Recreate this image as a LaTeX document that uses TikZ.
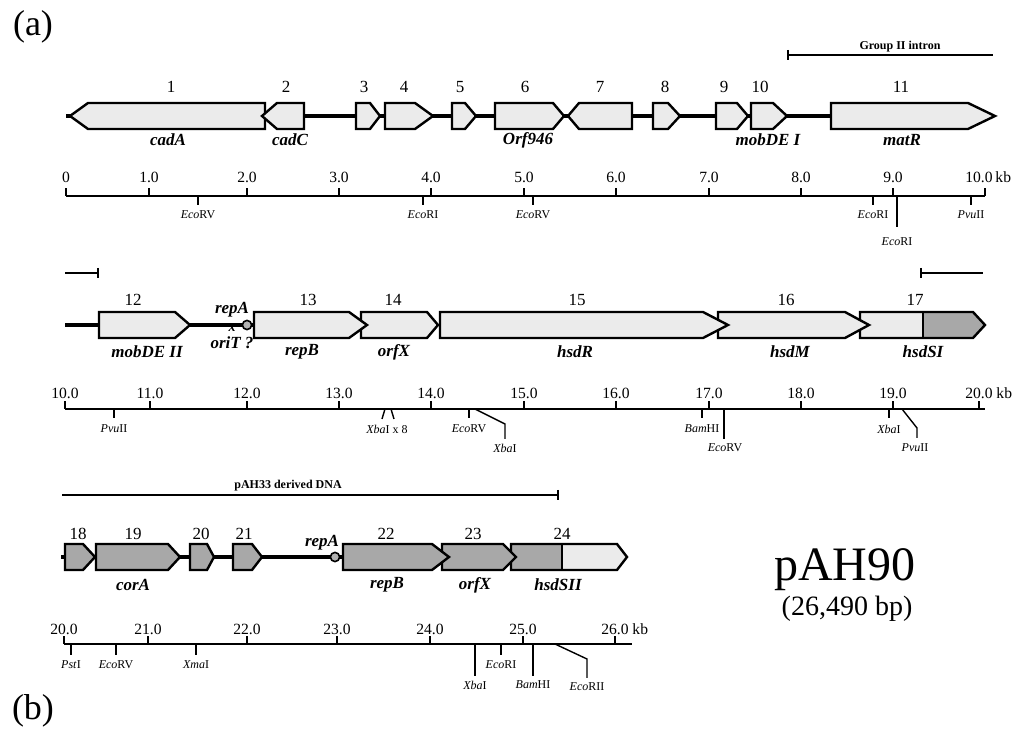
\documentclass[tikz,border=0pt]{standalone}
\usepackage{fontspec}
\setmainfont{Liberation Serif}
\usepackage{xcolor}
\usetikzlibrary{positioning}
\definecolor{genelight}{gray}{0.92}
\definecolor{genedark}{gray}{0.66}
% base x, shoulder x, tip x, centre y
\newcommand{\gene}[5][genelight]{%
  \filldraw[gene, fill=#1] (#2,#5-13) -- (#3,#5-13) -- (#4,#5) -- (#3,#5+13) -- (#2,#5+13) -- cycle;}

\begin{document}
\begin{tikzpicture}[x=0.5pt, y=-0.5pt,
    gene/.style={line width=1.2pt, line join=miter},
    backbone/.style={line width=2pt},
    axis/.style={line width=0.9pt},
    site/.style={line width=0.7pt},
    num/.style={font=\fontsize{8.5}{10}\selectfont, inner sep=0pt},
    gname/.style={font=\fontsize{8.5}{10}\selectfont\bfseries\itshape, inner sep=0pt},
    kblab/.style={font=\fontsize{7.8}{10}\selectfont, inner sep=0pt},
    sitelab/.style={font=\fontsize{6}{7}\selectfont, inner sep=0pt},
    barlab/.style={font=\fontsize{6}{7}\selectfont\bfseries, inner sep=0pt}]
    \useasboundingbox (0,0) rectangle (1013,731);

    \node[font=\fontsize{18}{20}\selectfont] (panela) at (33,27) {(a)};
    \node[font=\fontsize{18}{20}\selectfont] (panelb) at (33,711) {(b)};

    % row 1: 0 - 10 kb
    \draw[axis] (788,50) -- (788,60);
    \draw[axis] (788,55) -- (993,55);
    \node[barlab] (intron) at (900,47) {Group II intron};
    \draw[backbone] (66,116) -- (831,116);
    \gene{265}{88}{70}{116}
    \gene{304}{277}{262}{116}
    \gene{356}{370}{380}{116}
    \gene{385}{415}{433}{116}
    \gene{452}{465}{476}{116}
    \gene{495}{553}{564}{116}
    \gene{632}{579}{568}{116}
    \gene{653}{668}{680}{116}
    \gene{716}{737}{748}{116}
    \gene{751}{773}{787}{116}
    \gene{831}{968}{995}{116}
    \foreach \x/\n in {171/1, 286/2, 364/3, 404/4, 460/5, 525/6, 600/7, 665/8, 724/9, 760/10, 901/11}
        \node[num] (n\n) at (\x,87) {\n};
    \node[gname] (cadA) at (168,140) {cadA};
    \node[gname] (cadC) at (290,140) {cadC};
    \node[gname] (orf946) at (528,140) {Orf946};
    \node[gname] (mobDEI) at (768,140) {mobDE I};
    \node[gname] (matR) at (902,140) {matR};

    \draw[axis] (66,196) -- (985,196);
    \foreach \x/\t [count=\i] in {66/0, 149/1.0, 247/2.0, 339/3.0, 431/4.0, 524/5.0, 616/6.0, 709/7.0, 801/8.0, 893/9.0} {
        \draw[axis] (\x,196) -- (\x,188);
        \node[kblab] (ka\i) at (\x,177) {\t};
    }
    \draw[axis] (985,196) -- (985,188);
    \node[kblab] (ka11) at (979,177) {10.0};
    \node[kblab, right=1pt of ka11] (kba) {kb};
    \foreach \x/\s in {198/\textit{Eco}RV, 423/\textit{Eco}RI, 533/\textit{Eco}RV, 873/\textit{Eco}RI, 971/\textit{Pvu}II} {
        \draw[site] (\x,196) -- (\x,205);
        \node[sitelab] at (\x,215) {\s};
    }
    \draw[site] (897,196) -- (897,227);
    \node[sitelab] (ecoria) at (897,242) {\textit{Eco}RI};

    % row 2: 10 - 20 kb
    \draw[axis] (65,273) -- (98,273);
    \draw[axis] (98,268) -- (98,278);
    \draw[axis] (921,273) -- (983,273);
    \draw[axis] (921,268) -- (921,278);
    \draw[backbone] (65,325) -- (254,325);
    \fill[genelight] (860,312) rectangle (923,338);
    \fill[genedark] (923,312) -- (973,312) -- (985,325) -- (973,338) -- (923,338) -- cycle;
    \draw[gene] (860,312) -- (973,312) -- (985,325) -- (973,338) -- (860,338) -- cycle;
    \draw[line width=0.6pt] (923,312) -- (923,338);
    \gene{718}{845}{869}{325}
    \gene{440}{703}{728}{325}
    \gene{361}{427}{438}{325}
    \gene{254}{349}{367}{325}
    \gene{99}{175}{190}{325}
    \filldraw[fill=gray!60, line width=0.8pt] (247,325) circle[radius=2.3pt];
    \foreach \x/\n in {133/12, 308/13, 393/14, 577/15, 786/16, 915/17}
        \node[num] (n\n) at (\x,300) {\n};
    \node[gname] (repAa) at (232,310) {repA};
    \node[gname, font=\fontsize{7}{8}\selectfont\bfseries\itshape] (cross) at (232,328) {x};
    \node[gname] (oriT) at (232,343) {oriT ?};
    \node[gname] (mobDEII) at (147,352) {mobDE II};
    \node[gname] (repBa) at (302,352) {repB};
    \node[gname] (orfXa) at (394,352) {orfX};
    \node[gname] (hsdR) at (575,352) {hsdR};
    \node[gname] (hsdM) at (790,352) {hsdM};
    \node[gname] (hsdSI) at (923,352) {hsdSI};

    \draw[axis] (65,409) -- (985,409);
    \foreach \x/\t [count=\i] in {65/10.0, 150/11.0, 247/12.0, 339/13.0, 431/14.0, 524/15.0, 616/16.0, 709/17.0, 801/18.0, 893/19.0, 979/20.0} {
        \draw[axis] (\x,409) -- (\x,401);
        \node[kblab] (kb\i) at (\x,393) {\t};
    }
    \node[kblab, right=1.5pt of kb11] (kbb) {kb};
    \foreach \x/\s in {114/\textit{Pvu}II, 469/\textit{Eco}RV, 702/\textit{Bam}HI, 889/\textit{Xba}I} {
        \draw[site] (\x,409) -- (\x,418);
        \node[sitelab] at (\x,429) {\s};
    }
    \draw[site] (385,409) -- (382,419);
    \draw[site] (391,409) -- (394,419);
    \node[sitelab] (xbax) at (387,429) {\textit{Xba}I x 8};
    \draw[site] (475,409) -- (505,424) -- (505,439);
    \node[sitelab] (xbab) at (505,448) {\textit{Xba}I};
    \draw[site] (724,409) -- (724,439);
    \node[sitelab] (ecorvb) at (725,448) {\textit{Eco}RV};
    \draw[site] (902,409) -- (917,428) -- (917,438);
    \node[sitelab] (pvuiib) at (915,448) {\textit{Pvu}II};

    % row 3: 20 - 26.5 kb
    \draw[axis] (62,495) -- (558,495);
    \draw[axis] (558,490) -- (558,500);
    \node[barlab] (pah33) at (288,486) {pAH33 derived DNA};
    \draw[backbone] (61,557) -- (343,557);
    \fill[genedark] (511,544) rectangle (562,570);
    \fill[genelight] (562,544) -- (617,544) -- (627,557) -- (617,570) -- (562,570) -- cycle;
    \draw[gene] (511,544) -- (617,544) -- (627,557) -- (617,570) -- (511,570) -- cycle;
    \draw[line width=0.6pt] (562,544) -- (562,570);
    \gene[genedark]{442}{503}{516}{557}
    \gene[genedark]{343}{432}{449}{557}
    \gene[genedark]{233}{252}{262}{557}
    \gene[genedark]{190}{207}{214}{557}
    \gene[genedark]{96}{168}{180}{557}
    \gene[genedark]{65}{83}{95}{557}
    \filldraw[fill=gray!60, line width=0.8pt] (335,557) circle[radius=2.3pt];
    \foreach \x/\n in {78/18, 133/19, 201/20, 244/21, 386/22, 473/23, 562/24}
        \node[num] (n\n) at (\x,534) {\n};
    \node[gname] (repAb) at (322,543) {repA};
    \node[gname] (corA) at (133,585) {corA};
    \node[gname] (repBb) at (387,585) {repB};
    \node[gname] (orfXb) at (475,585) {orfX};
    \node[gname] (hsdSII) at (558,585) {hsdSII};

    \draw[axis] (64,644) -- (632,644);
    \foreach \x/\t [count=\i] in {64/20.0, 148/21.0, 247/22.0, 337/23.0, 430/24.0, 523/25.0, 615/26.0} {
        \draw[axis] (\x,644) -- (\x,636);
        \node[kblab] (kc\i) at (\x,629) {\t};
    }
    \node[kblab, right=1.5pt of kc7] (kbc) {kb};
    \foreach \x/\s in {71/\textit{Pst}I, 116/\textit{Eco}RV, 196/\textit{Xma}I, 501/\textit{Eco}RI} {
        \draw[site] (\x,644) -- (\x,655);
        \node[sitelab] at (\x,665) {\s};
    }
    \draw[site] (475,644) -- (475,676);
    \node[sitelab] (xbac) at (475,685) {\textit{Xba}I};
    \draw[site] (533,644) -- (533,676);
    \node[sitelab] (bamhic) at (533,685) {\textit{Bam}HI};
    \draw[site] (555,644) -- (587,659) -- (587,678);
    \node[sitelab] (ecoriic) at (587,687) {\textit{Eco}RII};

    \node[font=\fontsize{24}{28}\selectfont] (pah90) at (845,570) {pAH90};
    \node[font=\fontsize{14}{16}\selectfont] (bp) at (847,609) {(26,490 bp)};
\end{tikzpicture}
\end{document}
